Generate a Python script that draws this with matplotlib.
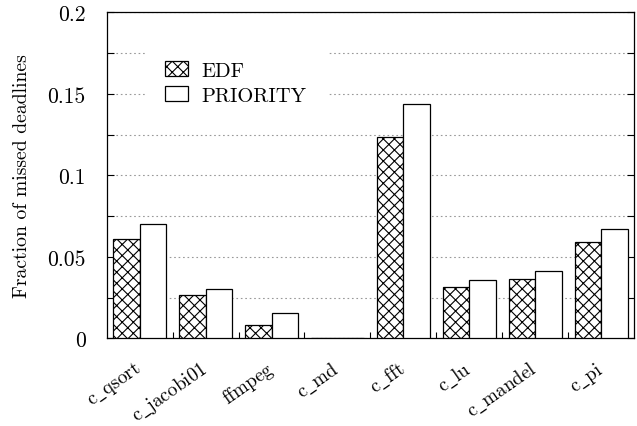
import numpy as np
import matplotlib
matplotlib.use("Agg")
import matplotlib.pyplot as plt
from matplotlib.ticker import MultipleLocator, FixedLocator
from matplotlib.transforms import ScaledTranslation

plt.rcParams['font.family'] = ['cmr10', 'DejaVu Serif']
plt.rcParams['mathtext.fontset'] = 'cm'
plt.rcParams['axes.unicode_minus'] = False
plt.rcParams['axes.formatter.use_mathtext'] = True
plt.rcParams['hatch.linewidth'] = 0.8

# data
benchmarks = ['c_qsort', 'c_jacobi01', 'ffmpeg', 'c_md', 'c_fft', 'c_lu', 'c_mandel', 'c_pi']
edf = [0.0610, 0.0268, 0.0085, 0.0, 0.1238, 0.0315, 0.0362, 0.0589]
priority = [0.0703, 0.0305, 0.0159, 0.0, 0.1435, 0.0360, 0.0412, 0.0671]
yticks = [0, 0.05, 0.1, 0.15, 0.2]
ytick_labels = ['0', '0.05', '0.1', '0.15', '0.2']

fs = 14.8
tfs = 15.5
fig = plt.figure(figsize=(6.37, 4.27), dpi=100)
ax = fig.add_axes([0.1675, 0.205, 0.828, 0.764])

x = np.arange(len(benchmarks))
w = 0.4
ax.bar(x - w / 2, edf, w, facecolor='white', edgecolor='black', hatch='xxx',
       linewidth=0.9, label='EDF', zorder=3)
ax.bar(x + w / 2, priority, w, facecolor='white', edgecolor='black',
       linewidth=0.9, label='PRIORITY', zorder=3)

ax.set_xlim(-0.5, len(benchmarks) - 0.5)
ax.set_ylim(0, 0.2)

# y ticks
ax.set_yticks(yticks, ytick_labels, fontsize=tfs)
ax.yaxis.set_minor_locator(MultipleLocator(0.025))
ax.tick_params(axis='y', which='both', direction='in', left=True, right=True,
               length=5, width=0.8, pad=15)
ax.grid(axis='y', which='both', linestyle=(0, (1.5, 2.5)), color='#999999',
        linewidth=0.8, zorder=0)

# x ticks (underscore via mathtext, cmr10 has no '_' glyph)
names = [r'$\mathrm{' + b.replace('_', r'\_') + '}$' for b in benchmarks]
ax.set_xticks(x)
ax.set_xticklabels(names, rotation=35, ha='right', rotation_mode='anchor',
                   fontsize=13.8)
ax.xaxis.set_minor_locator(FixedLocator(x[:-1] + 0.5))
ax.tick_params(axis='x', which='major', length=0, pad=14)
ax.tick_params(axis='x', which='minor', direction='in', length=4, width=0.8)
shift = ScaledTranslation(-6 / 100, 0, fig.dpi_scale_trans)
for lab in ax.get_xticklabels():
    lab.set_transform(lab.get_transform() + shift)

for s in ax.spines.values():
    s.set_linewidth(0.9)

ax.set_ylabel('Fraction of missed deadlines', fontsize=14.2, labelpad=12)

leg = ax.legend(loc='upper left', bbox_to_anchor=(0.072, 0.915), fontsize=fs,
                frameon=True, fancybox=False, edgecolor='none', facecolor='white',
                framealpha=1, handlelength=1.1, handleheight=0.8,
                handletextpad=0.65, labelspacing=0.3, borderpad=1.0,
                borderaxespad=0)
leg.set_zorder(5)

fig.savefig('out.png', dpi=100)
